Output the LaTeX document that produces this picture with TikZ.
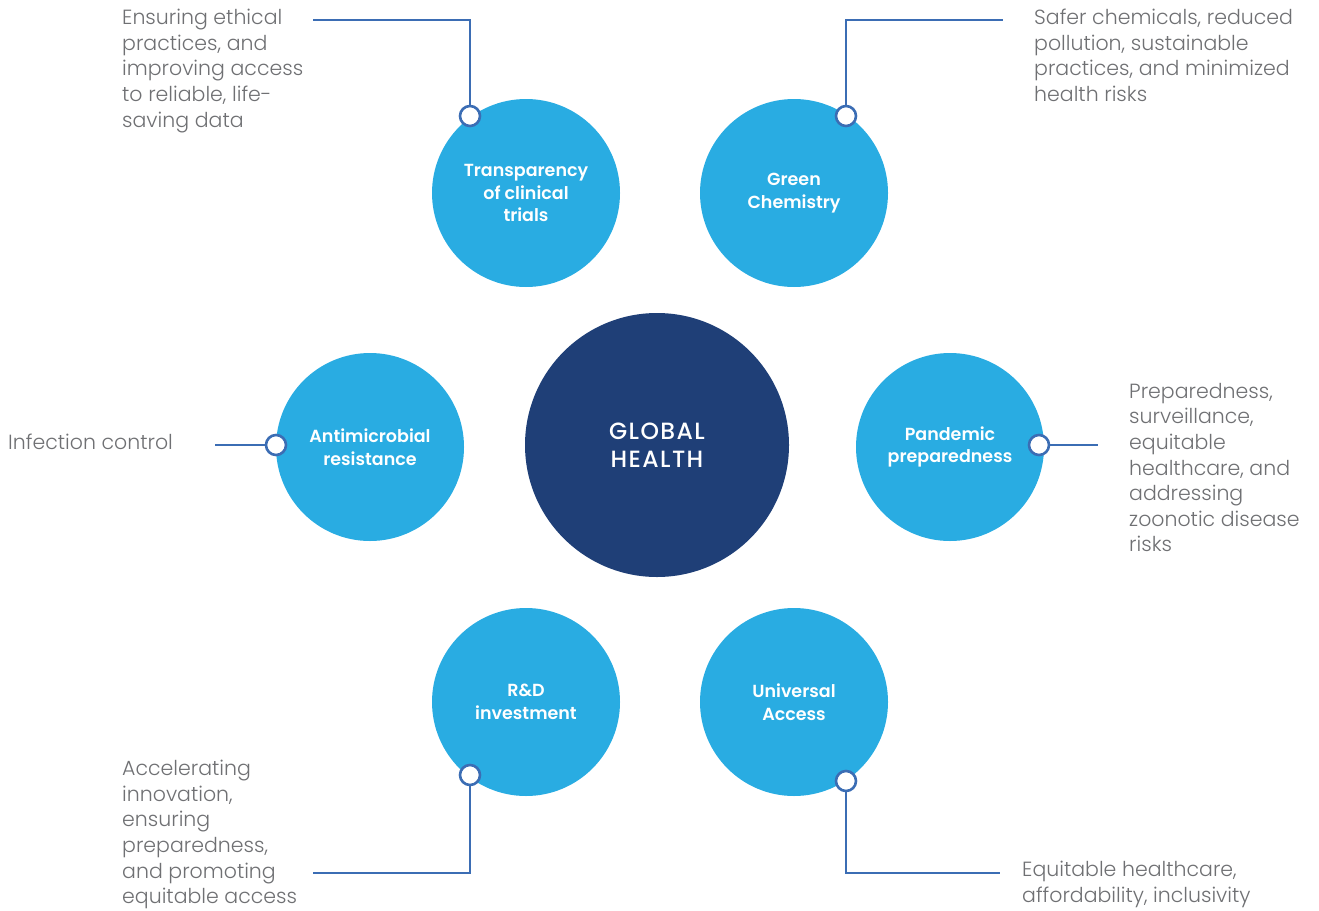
\documentclass[tikz,border=0pt]{standalone}
\usepackage{fontspec}
\setmainfont{Poppins}
\newfontfamily\medfont{Poppins SemiBold}
\newfontfamily\hubfont{Poppins Medium}[LetterSpace=6]
\newfontfamily\lightfont{Poppins Light}
\definecolor{lblue}{HTML}{29ACE2}
\definecolor{navy}{HTML}{1F3F77}
\definecolor{cblue}{HTML}{3B6DB4}
\definecolor{tgray}{HTML}{6F7073}
\begin{document}
\begin{tikzpicture}[x=1pt,y=-1pt,
  topic/.style={circle,fill=lblue,minimum size=188pt,inner sep=0pt,text=white,align=center,font=\fontsize{17.5}{22.5}\medfont},
  hub/.style={circle,fill=navy,minimum size=264pt,inner sep=0pt,text=white,align=center,font=\fontsize{23.5}{28}\hubfont},
  dot/.style={circle,draw=cblue,fill=white,line width=2.6pt,minimum size=20pt,inner sep=0pt},
  conn/.style={draw=cblue,line width=2.4pt},
  desc/.style={anchor=north west,inner sep=0pt,align=left,text=tgray,font=\fontsize{20.5}{25.6}\lightfont}]
\useasboundingbox (0,0) rectangle (1319,910);
\node[hub] (g) at (657,445) {GLOBAL\\HEALTH};
\node[topic] (t1) at (526,193) {Transparency\\of clinical\\trials};
\node[topic] (t2) at (794,193) {Green\\Chemistry};
\node[topic] (t3) at (370,447) {Antimicrobial\\resistance};
\node[topic] (t4) at (950,447) {Pandemic\\preparedness};
\node[topic] (t5) at (526,702) {R\&D\\investment};
\node[topic] (t6) at (794,702) {Universal\\Access};
% connector ends
\coordinate (e1a) at (470,20); \coordinate (e1) at (313,20);
\coordinate (e2a) at (846,20); \coordinate (e2) at (1003,20);
\coordinate (e3) at (215,445);
\coordinate (e4) at (1098,445);
\coordinate (e5a) at (470,873); \coordinate (e5) at (313,873);
\coordinate (e6a) at (846,873); \coordinate (e6) at (1000,873);
\draw[conn] (470,116) -- (e1a) -- (e1);
\draw[conn] (846,116) -- (e2a) -- (e2);
\draw[conn] (276,445) -- (e3);
\draw[conn] (1039,445) -- (e4);
\draw[conn] (470,775) -- (e5a) -- (e5);
\draw[conn] (846,781) -- (e6a) -- (e6);
\node[dot] (d1) at (470,116) {};
\node[dot] (d2) at (846,116) {};
\node[dot] (d3) at (276,445) {};
\node[dot] (d4) at (1039,445) {};
\node[dot] (d5) at (470,775) {};
\node[dot] (d6) at (846,781) {};
% descriptions
\node[desc] (x1) at (122,9) {Ensuring ethical\\practices, and\\improving access\\to reliable, life-\\saving data};
\node[desc] (x2) at (1034,9) {Safer chemicals, reduced\\pollution, sustainable\\practices, and minimized\\health risks};
\node[desc] (x3) at (8,434) {Infection control};
\node[desc] (x4) at (1129,383) {Preparedness,\\surveillance,\\equitable\\healthcare, and\\addressing\\zoonotic disease\\risks};
\node[desc] (x5) at (122,760) {Accelerating\\innovation,\\ensuring\\preparedness,\\and promoting\\equitable access};
\node[desc] (x6) at (1022,861) {Equitable healthcare,\\affordability, inclusivity};
\end{tikzpicture}
\end{document}
